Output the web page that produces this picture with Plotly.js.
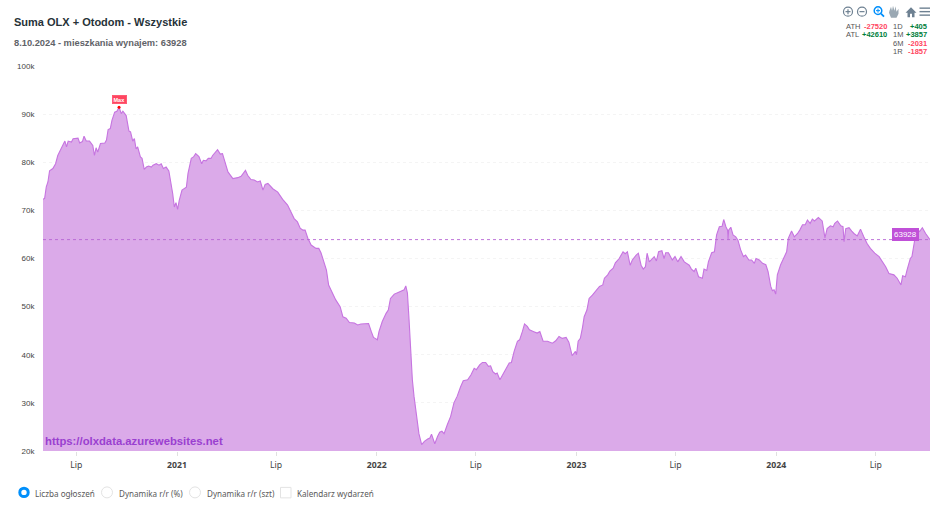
<!DOCTYPE html>
<html>
<head>
<meta charset="utf-8">
<script src="https://cdn.plot.ly/plotly-3.0.0.min.js"></script>
<style>html,body{margin:0;padding:0;background:#fff}#c{width:948px;height:511px}</style>
</head>
<body>
<div id="c"></div>
<script>
// readings from the picture: [days since startDate, listings in thousands]
const part1 = [[0,72.3],[3,72.5],[6,74.9],[9,75.9],[12,78.2],[18,78.7],[23,79.7],[27,81.4],[33,82.8],[40,84.4],[43,83.2],[46,84.4],[52,84.2],[55,84.9],[64,85.0],[67,84.0],[72,84.3],[75,85.4],[79,84.4],[85,84.4],[91,83.5],[94,81.4],[97,83.0],[100,82.1],[105,83.9],[113,84.0],[116,84.6],[119,86.8],[123,87.0],[126,88.7],[131,90.4],[135,90.6],[139,91.448],[143,90.1],[146,90.6],[152,89.7],[157,86.5],[160,86.3],[164,84.4],[167,84.9],[170,82.8],[173,83.2],[178,81.1],[181,80.8],[185,78.5],[189,79.0],[193,79.2],[198,79.0],[201,79.4],[207,79.7],[212,79.4],[216,79.7],[220,78.7],[225,79.0],[230,78.2],[234,75.6],[237,73.5],[240,70.7],[243,71.6],[246,70.2],[249,72.1],[254,74.2],[262,74.8],[265,77.7],[271,80.8],[275,81.1],[279,81.8],[285,81.2],[290,79.7],[293,80.4],[298,80.3],[302,80.8],[307,80.8],[310,81.4],[316,82.3],[319,82.6],[324,81.7],[328,81.8]];
const part2 = [[338,78.0],[347,76.6],[356,76.8],[362,77.1],[370,78.3],[374,77.3],[380,76.4],[386,76.3],[392,75.9],[397,76.1],[402,74.2],[406,75.4],[411,75.6],[420,74.5],[429,73.8],[438,72.3],[447,71.1],[453,69.7],[459,68.3],[465,67.6],[470,66.3],[475,65.9],[479,65.9],[484,64.2],[490,62.8],[499,62.1],[504,62.1],[508,61.2],[514,59.3],[518,57.6],[522,54.5],[529,52.8],[535,51.4],[543,50.0],[548,47.9],[554,47.6],[560,46.7],[569,46.6],[575,46.2],[581,46.4],[590,46.4],[595,46.5],[600,44.8],[604,43.6],[607,43.4],[611,43.1],[614,44.8],[620,46.9],[627,48.6],[631,49.3],[635,51.7],[642,52.6],[648,52.9],[657,53.3]];
const part3 = [[660,53.5],[663,54.3],[666,52.8],[669,47.2],[672,40.3],[675,34.8],[678,31.4],[681,28.6],[684,25.8],[687,23.6],[692,21.318],[697,22.0],[703,22.5],[707,22.7],[710,23.5],[713,22.4],[716,21.5],[721,23.0],[725,23.9],[729,24.1],[733,23.6],[739,25.5],[745,27.2],[751,30.0],[757,31.4],[763,33.3],[768,34.6],[776,34.8],[782,35.8],[788,37.2],[792,36.9],[798,37.9],[803,38.4],[809,38.4],[814,37.6],[818,37.7],[822,36.5],[827,36.0],[830,36.2],[835,34.8],[840,35.8],[846,36.9],[852,38.3],[856,38.4],[861,40.7],[867,42.8],[871,43.1],[876,44.8],[880,46.4],[885,45.9],[889,45.2],[897,44.8],[903,44.5],[908,44.8],[914,42.8],[922,42.8],[931,42.4],[937,42.9],[943,43.8],[949,43.4],[956,43.6],[961,42.6],[967,39.8],[973,40.7],[975,40.0],[978,42.8],[982,43.4],[986,45.7]];
const part4 = [[989,47.9],[994,49.3],[998,51.7],[1004,52.4],[1008,52.9],[1012,53.6],[1017,54.2],[1023,54.5],[1026,55.9],[1032,56.6],[1036,57.4],[1042,58.0],[1046,59.1],[1053,60.0],[1060,61.4],[1064,61.0],[1068,61.4],[1073,58.6],[1077,59.7],[1084,60.7],[1088,61.1],[1093,58.6],[1097,57.8],[1101,58.3],[1104,61.1],[1108,59.3],[1113,60.0],[1117,60.4],[1121,59.5],[1125,61.4],[1131,61.6],[1135,60.0],[1138,61.2],[1143,61.2],[1150,59.7],[1155,60.4],[1160,59.3],[1166,60.4],[1172,59.3],[1181,58.6],[1185,57.8],[1190,57.3],[1193,58.0],[1198,56.2],[1205,55.9],[1208,57.8],[1213,57.5],[1216,59.3],[1222,61.2],[1227,61.4],[1231,64.9],[1236,66.6],[1241,66.7],[1244,68.1],[1248,66.6],[1251,65.9],[1252,64.0],[1253,65.9],[1257,66.5],[1261,64.9],[1266,64.5],[1270,63.8],[1275,61.8],[1280,60.4],[1284,60.7],[1290,59.7]];
const part5 = [[1295,59.7],[1300,59.0],[1303,60.0],[1309,59.7],[1315,59.0],[1321,58.7],[1325,57.3],[1330,54.2],[1333,53.3],[1336,53.5],[1339,52.6],[1342,56.6],[1348,58.7],[1354,60.4],[1359,61.4],[1362,64.2],[1368,65.7],[1373,64.5],[1379,65.2],[1383,65.9],[1388,67.0],[1393,67.0],[1397,68.0],[1402,67.3],[1406,68.2],[1410,67.8],[1417,68.5],[1424,67.8],[1429,64.3],[1433,66.2],[1439,66.8],[1444,66.6],[1447,67.3],[1452,67.8],[1458,66.8],[1462,66.6],[1464,63.5],[1467,66.2],[1473,66.4],[1478,65.7],[1482,65.2],[1488,64.7],[1494,66.1],[1500,64.5],[1506,63.1],[1512,62.1],[1520,61.1],[1528,60.4],[1534,59.3],[1540,58.3],[1546,56.9],[1555,56.6],[1561,55.9],[1568,54.5],[1571,56.4],[1576,56.2],[1579,57.6],[1585,60.0],[1588,60.4],[1593,63.8],[1598,65.9],[1602,65.6],[1607,66.4],[1613,65.2],[1621,63.928]];
const startDate = "2020-05-01";
const endDate = "2024-10-08";
const peakValue = 91.448;
const lastValue = 63.928;
const yTicks = [20,30,40,50,60,70,80,90,100];
const xTickDates = ["2020-07-01","2021-01-01","2021-07-01","2022-01-01","2022-07-01","2023-01-01","2023-07-01","2024-01-01","2024-07-01"];
const xTickLabels = ["Lip","<b>2021</b>","Lip","<b>2022</b>","Lip","<b>2023</b>","Lip","<b>2024</b>","Lip"];
const titleText = "Suma OLX + Otodom - Wszystkie";
const subtitleText = "8.10.2024 - mieszkania wynajem: 63928";
const watermark = "https://olxdata.azurewebsites.net";
const options = ["Liczba ogłoszeń","Dynamika r/r (%)","Dynamika r/r (szt)","Kalendarz wydarzeń"];
const statsLeft = [["ATH","-27520"],["ATL","+42610"]];
const statsRight = [["1D","+405"],["1M","+3857"],["6M","-2031"],["1R","-1857"]];

const dayMs = 86400000;
const t0 = Date.parse(startDate + "T00:00:00Z");
const series = part1.concat(part2,part3,part4,part5);
const dates = series.map(p=>new Date(t0+p[0]*dayMs).toISOString().slice(0,10));
const values = series.map(p=>p[1]);
const peakDate = dates[values.indexOf(peakValue)];

// page pixel -> paper helpers for the surrounding decoration
const L=43,R=930,T=65.5,B=451.5;
const px=x=>(x-L)/(R-L), py=y=>(B-y)/(B-T);
const LAB="Liberation Sans, Arial, sans-serif", NOTO="Noto Sans, sans-serif";
const GREEN="#00803c", RED="#ff4560", ICON="#6e8192", BLUE="#008ffb";

const ann=[], shp=[];
function text(x,y,t,size,color,anchor,font){ann.push({xref:"paper",yref:"paper",x:px(x),y:py(y),text:t,showarrow:false,
  xanchor:anchor||"left",yanchor:"middle",font:{size:size,color:color,family:font||LAB},borderpad:0,borderwidth:0,align:anchor||"left"});}
function circle(x,y,r,line,w,fill){shp.push({type:"circle",xref:"paper",yref:"paper",x0:px(x-r),x1:px(x+r),y0:py(y+r),y1:py(y-r),
  line:{color:line,width:w},fillcolor:fill||"rgba(0,0,0,0)",layer:"above"});}
function seg(x0,y0,x1,y1,c,w){shp.push({type:"line",xref:"paper",yref:"paper",x0:px(x0),x1:px(x1),y0:py(y0),y1:py(y1),line:{color:c,width:w},layer:"above"});}
function poly(pts,c){shp.push({type:"path",xref:"paper",yref:"paper",path:"M"+pts.map(p=>px(p[0])+","+py(p[1])).join("L")+"Z",fillcolor:c,line:{width:0},layer:"above"});}

text(14,21,"<b>"+titleText+"</b>",11,"#263238");
text(14,42,"<b>"+subtitleText+"</b>",9.3,"#5f6368");
text(45,441,"<b>"+watermark+"</b>",11.3,"#9a3fd0");

// toolbar
circle(848,11,4.5,ICON,1.2); seg(845.5,11,850.5,11,ICON,1.2); seg(848,8.5,848,13.5,ICON,1.2);
circle(862,11,4.5,ICON,1.2); seg(859.5,11,864.5,11,ICON,1.2);
circle(878,10,3.8,BLUE,1.5); seg(876,10,880,10,BLUE,1); seg(878,8,878,12,BLUE,1); seg(881,13,884,16,BLUE,1.8);
poly([[889.5,10],[891,6],[892,10],[893,5],[894.5,10],[895.5,5.5],[896.5,11],[898.5,8],[898.5,13],[896.5,17],[891,17],[889,12]],"#9aa8b3");
poly([[905.5,12],[911,6.5],[916.5,12],[914.5,12],[914.5,16.5],[912,16.5],[912,13],[910,13],[910,16.5],[907.5,16.5],[907.5,12]],ICON);
seg(919.5,7.5,930,7.5,ICON,1.4); seg(919.5,11,930,11,ICON,1.4); seg(919.5,14.5,930,14.5,ICON,1.4);

// small stats table
const rowY=[25.5,34,43,51];
statsLeft.forEach((r,i)=>{text(846,rowY[i],r[0],7.5,"#555");text(887,rowY[i],"<b>"+r[1]+"</b>",7.5,r[1][0]==="+"?GREEN:RED,"right");});
statsRight.forEach((r,i)=>{text(893,rowY[i],r[0],7.5,"#555");text(927,rowY[i],"<b>"+r[1]+"</b>",7.5,r[1][0]==="+"?GREEN:RED,"right");});

// value marks
ann.push({x:peakDate,y:peakValue,xref:"x",yref:"y",text:"<b>Max</b>",showarrow:false,yshift:8,bgcolor:"#ff4560",
  font:{size:5.5,color:"#fff",family:LAB},borderpad:1,bordercolor:"#ff4560",borderwidth:0.5});
ann.push({x:endDate,y:lastValue,xref:"x",yref:"y",text:"63928",showarrow:false,xanchor:"right",xshift:-11,yshift:5,bgcolor:"#c050d8",
  font:{size:8,color:"#fff",family:LAB},borderpad:2,borderwidth:0});
shp.push({type:"line",xref:"paper",yref:"y",x0:0,x1:1,y0:lastValue,y1:lastValue,line:{color:"#b765d4",width:0.9,dash:"dot"},layer:"above"});

// option row
const optX=[35,119,207,297];
options.forEach((o,i)=>text(optX[i],494.5,o,8.1,"#5a5a5a","left",NOTO));
circle(24,493,4.2,BLUE,3,"#fff");
circle(107,493,5.5,"#e3e3e3",1,"#fff");
circle(195,493,5.5,"#e3e3e3",1,"#fff");
shp.push({type:"rect",xref:"paper",yref:"paper",x0:px(280.5),x1:px(291),y0:py(498.5),y1:py(488),line:{color:"#e3e3e3",width:1},fillcolor:"#fff"});

Plotly.newPlot("c",[
 {type:"scatter",mode:"lines",x:dates,y:values,fill:"tozeroy",fillcolor:"#dbaae9",line:{color:"#c674e0",width:1.1,shape:"linear"},hoverinfo:"skip"},
 {type:"scatter",mode:"markers",x:[peakDate],y:[peakValue],marker:{color:"#ff0000",size:3},hoverinfo:"skip"}
],{
 width:948,height:511,showlegend:false,paper_bgcolor:"#fff",plot_bgcolor:"#fff",
 margin:{l:L,r:948-R,t:T,b:511-B,pad:0},
 xaxis:{type:"date",range:[startDate,endDate],tickmode:"array",tickvals:xTickDates,ticktext:xTickLabels,showgrid:false,zeroline:false,
   ticks:"outside",ticklen:4,tickcolor:"#e0e0e0",tickwidth:1,showline:false,tickangle:0,ticklabelstandoff:2,tickfont:{size:8.7,color:"#444",family:NOTO}},
 yaxis:{range:[20,100],tickmode:"array",tickvals:yTicks,ticktext:yTicks.map(v=>v+"k"),showgrid:true,gridcolor:"#f4f4f4",griddash:"dot",gridwidth:1,
   zeroline:false,showline:false,ticks:"outside",ticklen:6,tickcolor:"rgba(0,0,0,0)",tickfont:{size:8,color:"#444",family:LAB}},
 annotations:ann,shapes:shp
},{displayModeBar:false,staticPlot:true});
</script>
</body>
</html>
